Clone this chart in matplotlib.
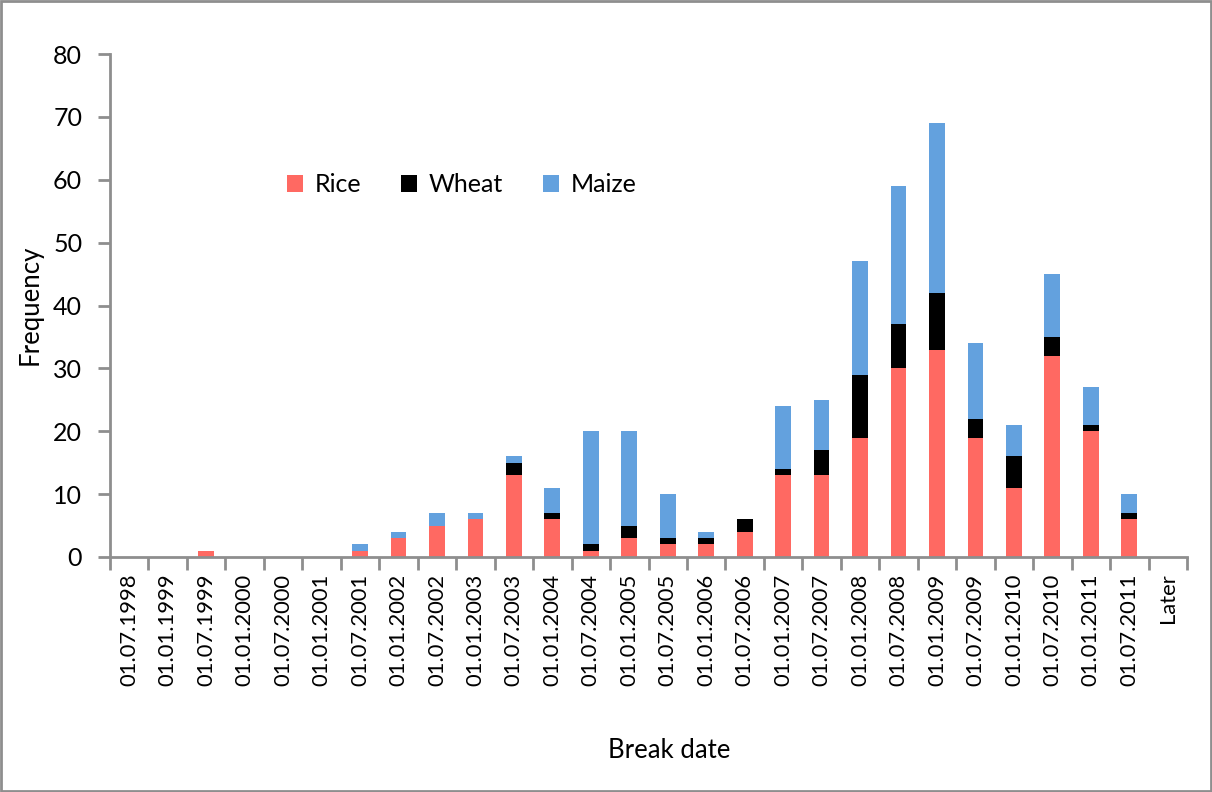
import numpy as np
import matplotlib.pyplot as plt
from matplotlib.patches import Rectangle

plt.rcParams['font.family'] = ['Lato', 'DejaVu Sans']

dates = ["01.07.1998", "01.01.1999", "01.07.1999", "01.01.2000", "01.07.2000",
         "01.01.2001", "01.07.2001", "01.01.2002", "01.07.2002", "01.01.2003",
         "01.07.2003", "01.01.2004", "01.07.2004", "01.01.2005", "01.07.2005",
         "01.01.2006", "01.07.2006", "01.01.2007", "01.07.2007", "01.01.2008",
         "01.07.2008", "01.01.2009", "01.07.2009", "01.01.2010", "01.07.2010",
         "01.01.2011", "01.07.2011", "Later"]
rice = [0, 0, 1, 0, 0, 0, 1, 3, 5, 6, 13, 6, 1, 3, 2, 2, 4, 13, 13, 19,
        30, 33, 19, 11, 32, 20, 6, 0]
wheat = [0, 0, 0, 0, 0, 0, 0, 0, 0, 0, 2, 1, 1, 2, 1, 1, 2, 1, 4, 10,
         7, 9, 3, 5, 3, 1, 1, 0]
maize = [0, 0, 0, 0, 0, 0, 1, 1, 2, 1, 1, 4, 18, 15, 7, 1, 0, 10, 8, 18,
         22, 27, 12, 5, 10, 6, 3, 0]

c_rice = "#ff6962"
c_wheat = "#000000"
c_maize = "#63a1de"
axis_col = "#8e8e8e"

fig = plt.figure(figsize=(12.12, 7.92), dpi=100)
ax = fig.add_axes([110/1212, 1-557/792, 1077/1212, 503/792])

x = np.arange(len(dates))
rice = np.array(rice)
wheat = np.array(wheat)
maize = np.array(maize)
w = 0.41
ax.bar(x, rice, w, color=c_rice, label="Rice")
ax.bar(x, wheat, w, bottom=rice, color=c_wheat, label="Wheat")
ax.bar(x, maize, w, bottom=rice + wheat, color=c_maize, label="Maize")

ax.set_xlim(-0.5, len(dates) - 0.5)
ax.set_ylim(0, 80)
ax.set_yticks(range(0, 81, 10))

ax.set_xticks(np.arange(-0.5, len(dates), 1.0))
ax.set_xticklabels([])
ax.set_xticks(x, minor=True)
ax.set_xticklabels(dates, minor=True, rotation=90)
ax.tick_params(axis='x', which='major', length=9, width=2, color=axis_col, direction='out')
ax.tick_params(axis='x', which='minor', length=0, pad=12, labelsize=15.8)
ax.tick_params(axis='y', length=9, width=2, color=axis_col, direction='out', pad=11, labelsize=18)

for s in ['top', 'right']:
    ax.spines[s].set_visible(False)
for s in ['left', 'bottom']:
    ax.spines[s].set_color(axis_col)
    ax.spines[s].set_linewidth(2)

fig.text(30/1212, 1-305/792, "Frequency", rotation=90, ha='center', va='center', fontsize=18.5)
fig.text(669/1212, 1-750/792, "Break date", ha='center', va='center', fontsize=18.5)

fig.legend(loc='center left', bbox_to_anchor=(287/1212, 1-185/792), ncol=3,
           frameon=False, fontsize=18, handlelength=0.65, handleheight=0.65,
           handletextpad=0.45, columnspacing=1.6, borderpad=0, borderaxespad=0)

fig.patches.append(Rectangle((0.001, 0.001), 0.998, 0.998, transform=fig.transFigure,
                             fill=False, edgecolor=axis_col, linewidth=2))

fig.savefig("out.png", dpi=100)
